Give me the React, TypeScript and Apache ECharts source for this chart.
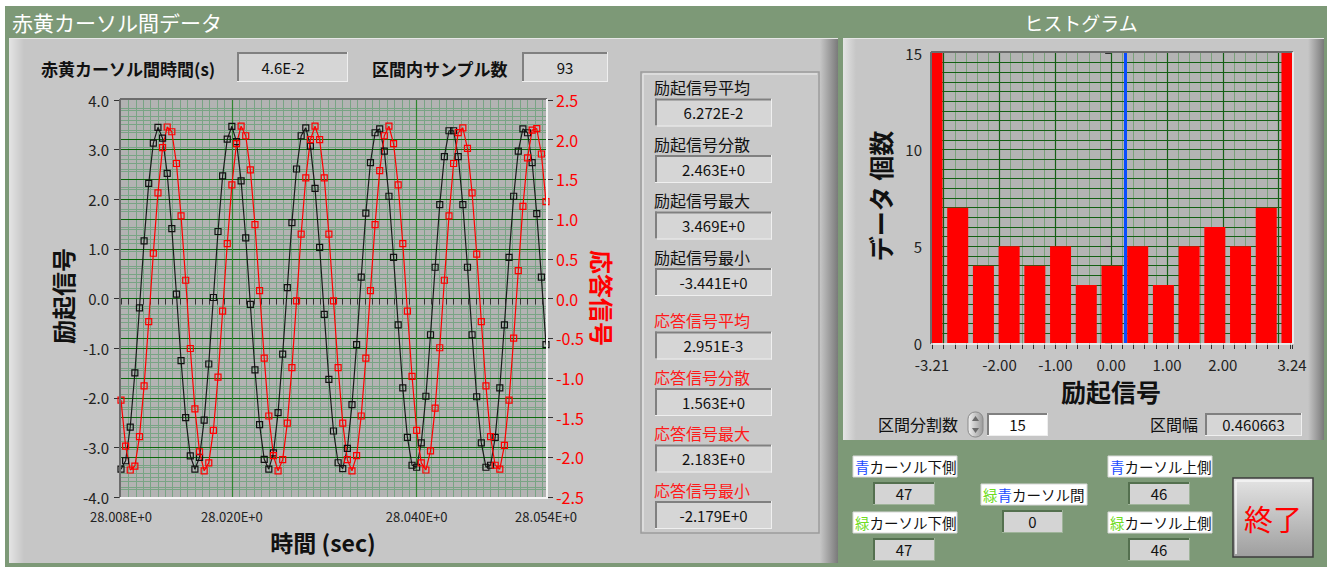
import React, { useEffect, useRef } from 'react';
import * as echarts from 'echarts';

// ---------------- data ----------------
const T0 = 28.008; // first sample time (s)
const DT = 0.0005; // sampling interval (s)
const excitation = [
  -3.44, -3.27, -2.59, -1.5, -0.19, 1.16, 2.32, 3.13, 3.45, 3.23, 2.52, 1.41, 0.09, -1.25, -2.4, -3.17,
  -3.44, -3.2, -2.45, -1.32, 0.02, 1.35, 2.47, 3.21, 3.47, 3.16, 2.37, 1.22, -0.12, -1.44, -2.54, -3.24,
  -3.44, -3.11, -2.3, -1.12, 0.22, 1.53, 2.61, 3.28, 3.44, 3.07, 2.22, 1.03, -0.32, -1.63, -2.67, -3.31,
  -3.43, -3.02, -2.14, -0.93, 0.43, 1.72, 2.74, 3.34, 3.42, 2.97, 2.06, 0.83, -0.53, -1.8, -2.8, -3.36,
  -3.4, -2.91, -1.97, -0.73, 0.63, 1.89, 2.86, 3.38, 3.38, 2.86, 1.89, 0.63, -0.73, -1.98, -2.91, -3.4,
  -3.36, -2.8, -1.8, -0.53, 0.83, 2.06, 2.97, 3.42, 3.34, 2.74, 1.71, 0.43, -0.93,
];
const response = [
  -1.28, -1.86, -2.16, -2.11, -1.74, -1.1, -0.29, 0.57, 1.33, 1.9, 2.16, 2.1, 1.7, 1.04, 0.23, -0.63,
  -1.39, -1.93, -2.17, -2.07, -1.66, -0.99, -0.16, 0.69, 1.43, 1.95, 2.17, 2.05, 1.62, 0.93, 0.1, -0.75,
  -1.48, -1.98, -2.17, -2.03, -1.57, -0.87, -0.03, 0.81, 1.52, 2.0, 2.17, 2.0, 1.52, 0.81, -0.03, -0.87,
  -1.57, -2.03, -2.17, -1.98, -1.48, -0.75, 0.1, 0.93, 1.61, 2.05, 2.17, 1.95, 1.43, 0.69, -0.16, -0.98,
  -1.66, -2.07, -2.16, -1.92, -1.38, -0.62, 0.23, 1.04, 1.7, 2.09, 2.15, 1.89, 1.33, 0.56, -0.29, -1.1,
  -1.74, -2.1, -2.15, -1.85, -1.28, -0.5, 0.35, 1.16, 1.77, 2.12, 2.14, 1.82, 1.22,
];
const timeLabels = [28.008, 28.02, 28.04, 28.054];
const timeMajor = [28.02, 28.04];

const HIST_MIN = -3.21;
const HIST_MAX = 3.24;
const BIN_WIDTH = 0.460663;
const histCounts = [15, 7, 4, 5, 4, 5, 3, 4, 5, 3, 5, 6, 5, 7, 15];
const histLabels = [-3.21, -2, -1, 0, 1, 2, 3.24];
const histMajor = [-3, -2, -1, 0, 1, 2, 3];
const blueCursor = 0.25;

const excStatLabels = ['励起信号平均', '励起信号分散', '励起信号最大', '励起信号最小'];
const excStatValues = ['6.272E-2', '2.463E+0', '3.469E+0', '-3.441E+0'];
const resStatLabels = ['応答信号平均', '応答信号分散', '応答信号最大', '応答信号最小'];
const resStatValues = ['2.951E-3', '1.563E+0', '2.183E+0', '-2.179E+0'];

// ---------------- style ----------------
const FONT = '"Noto Sans CJK JP", "Noto Sans", sans-serif';
const GREEN = '#7d9977';
const PANEL = '#c6c6c6';
const PLOT_BG = '#b3b3b3';
const MINOR = '#79a485';
const MAJOR = '#0b680b';
const VMAJOR = '#2f872f';
const H_MINOR_V = '#7aa27a';
const H_LINE = '#145f14';
const BAR_PX = 21;

const lg = (x: number, y: number, x2: number, y2: number, a: string, b: string) =>
  new echarts.graphic.LinearGradient(x, y, x2, y2, [
    { offset: 0, color: a },
    { offset: 1, color: b },
  ]);

const R = (x: number, y: number, w: number, h: number, fill: any, z: number, extra: any = {}) => ({
  type: 'rect',
  shape: { x, y, width: w, height: h, r: extra.r || 0 },
  style: { fill, stroke: extra.stroke || null, lineWidth: extra.lineWidth || 0 },
  z,
  silent: true,
});
const L = (x1: number, y1: number, x2: number, y2: number, stroke: string, w: number, z: number) => ({
  type: 'line',
  shape: { x1, y1, x2, y2 },
  style: { stroke, lineWidth: w },
  z,
  silent: true,
});
const T = (x: number, y: number, text: string, o: any = {}) => ({
  type: 'text',
  x,
  y,
  rotation: o.rotation || 0,
  z: o.z || 30,
  silent: true,
  style: {
    text,
    fill: o.color || '#111',
    fontSize: o.size || 15,
    fontFamily: FONT,
    fontWeight: o.weight || 'normal',
    align: o.align || 'left',
    textAlign: o.align || 'left',
    verticalAlign: 'middle',
    textVerticalAlign: 'middle',
    rich: o.rich,
  },
});
const sunken = (x: number, y: number, w: number, h: number, fill: string, dark = '#808080', light = '#efefef') => [
  R(x, y, w, h, fill, -5),
  L(x, y + 1, x + w, y + 1, dark, 2, -4),
  L(x + 1, y, x + 1, y + h, dark, 2, -4),
  L(x, y + h - 0.5, x + w, y + h - 0.5, light, 1, -4),
  L(x + w - 0.5, y, x + w - 0.5, y + h, light, 1, -4),
];

function buildOption() {
  const timeData = excitation.map((v, i) => [T0 + DT * i, v]);
  const respData = response.map((v, i) => [T0 + DT * i, v]);

  const timeTicks: number[] = [];
  for (let k = 0; k <= 57; k++) timeTicks.push(Math.round((28.008 + 0.0008 * k) * 1e5) / 1e5);
  timeTicks.push(28.054);
  const timeMinor = timeTicks.filter(
    (v) => v > 28.0081 && v < 28.0539 && timeMajor.every((m) => Math.abs(v - m) > 1e-6),
  );

  const histTicks: number[] = [HIST_MIN];
  for (let k = 0; k <= 32; k++) histTicks.push(Math.round((-3.2 + 0.2 * k) * 100) / 100);
  histTicks.push(HIST_MAX);
  const histMinor = histTicks.filter(
    (v) => v > HIST_MIN && v < HIST_MAX && Math.abs(v - Math.round(v)) > 1e-6,
  );
  const histData = histCounts.map((c, k) => [HIST_MIN + BIN_WIDTH * k, c]);

  const vLines = (vals: number[], color: string, width: number, z: number) => ({
    silent: true,
    symbol: 'none',
    z,
    precision: 6,
    animation: false,
    label: { show: false },
    emphasis: { disabled: true },
    lineStyle: { type: 'solid', color, width },
    data: vals.map((v) => ({ xAxis: v })),
  });

  // ---------- graphic (panels, labels) ----------
  const g: any[] = [];
  g.push(R(0, 0, 1333, 572, '#ffffff', -40));
  g.push(R(5, 6, 1322, 561, GREEN, -39));
  // left panel
  g.push(R(9, 38, 829, 525, PANEL, -30));
  g.push(R(9, 38, 15, 525, lg(0, 0, 1, 0, '#e4e4e4', PANEL), -29));
  g.push(R(820, 38, 18, 525, lg(0, 0, 1, 0, PANEL, '#7a7a7a'), -29));
  g.push(L(9, 38.5, 838, 38.5, '#e6e6e6', 1, -28));
  // histogram panel
  g.push(R(843, 38, 481, 402, PANEL, -30));
  g.push(R(843, 38, 13, 402, lg(0, 0, 1, 0, '#e4e4e4', PANEL), -29));
  g.push(R(1308, 38, 16, 402, lg(0, 0, 1, 0, PANEL, '#7a7a7a'), -29));
  g.push(L(843, 38.5, 1324, 38.5, '#e6e6e6', 1, -28));
  // stats panel
  g.push(R(641, 72, 178, 461, '#c9c9c9', -25, { stroke: '#9c9c9c', lineWidth: 1.5 }));
  g.push(L(643, 74, 817, 74, '#e2e2e2', 1.5, -24));
  g.push(L(643, 74, 643, 531, '#e2e2e2', 1.5, -24));

  // titles
  g.push(T(12, 22, '赤黄カーソル間データ', { size: 21, color: '#ffffff' }));
  g.push(T(1081, 22, 'ヒストグラム', { size: 19, color: '#ffffff', align: 'center' }));

  // top row
  g.push(T(41, 68, '赤黄カーソル間時間(s)', { size: 17, weight: 'bold' }));
  g.push(...sunken(237, 52, 111, 30, '#d6d6d6'));
  g.push(T(283, 67, '4.6E-2', { size: 15, align: 'center' }));
  g.push(T(372, 68, '区間内サンプル数', { size: 17, weight: 'bold' }));
  g.push(...sunken(522, 52, 86, 30, '#d6d6d6'));
  g.push(T(565, 67, '93', { size: 15, align: 'center' }));

  // stats
  const excY = [87, 143.5, 200, 256.5];
  const resY = [320, 376.5, 433, 489.5];
  excStatLabels.forEach((lab, i) => {
    g.push(T(654, excY[i], lab, { size: 16 }));
    g.push(...sunken(655, excY[i] + 11.5, 117, 28, '#d6d6d6'));
    g.push(T(713.5, excY[i] + 25.5, excStatValues[i], { size: 15, align: 'center' }));
  });
  resStatLabels.forEach((lab, i) => {
    g.push(T(654, resY[i], lab, { size: 16, color: '#ff1a1a' }));
    g.push(...sunken(655, resY[i] + 11.5, 117, 28, '#d6d6d6'));
    g.push(T(713.5, resY[i] + 25.5, resStatValues[i], { size: 15, align: 'center' }));
  });

  // plot backgrounds + frames
  g.push(R(121, 100, 425, 397, PLOT_BG, -10));
  g.push(L(120, 99, 547, 99, '#6c6c6c', 2, 10));
  g.push(L(120, 99, 120, 498, '#6c6c6c', 2, 10));
  g.push(L(120, 498, 548, 498, '#f4f4f4', 2, 10));
  g.push(L(547, 99, 547, 498, '#f4f4f4', 2, 10));
  g.push(R(932, 53, 360, 290, '#b4b4b4', -10));
  g.push(L(931, 52, 1293, 52, '#6c6c6c', 2, 10));
  g.push(L(931, 52, 931, 344, '#6c6c6c', 2, 10));
  g.push(L(931, 344, 1293, 344, '#f4f4f4', 1.5, 10));
  g.push(L(1293, 52, 1293, 344, '#f4f4f4', 1.5, 10));

  // axis titles
  g.push(T(62, 296, '励起信号', { size: 24, weight: 'bold', align: 'center', rotation: Math.PI / 2 }));
  g.push(T(602, 298, '応答信号', { size: 24, weight: 'bold', align: 'center', color: '#ff0000', rotation: -Math.PI / 2 }));
  g.push(T(323, 542, '時間 (sec)', { size: 23, weight: 'bold', align: 'center' }));
  g.push(T(880, 196, 'データ 個数', { size: 25, weight: 'bold', align: 'center', rotation: Math.PI / 2 }));
  g.push(T(1111, 391, '励起信号', { size: 25, weight: 'bold', align: 'center' }));

  // histogram controls
  g.push(T(878, 424, '区間分割数', { size: 16 }));
  g.push(R(968, 412, 15, 25, lg(0, 0, 1, 0, '#f0f0f0', '#9a9a9a'), -5, { r: 7, stroke: '#8a8a8a', lineWidth: 1 }));
  g.push({ type: 'polygon', shape: { points: [[972, 421], [979, 421], [975.5, 416]] }, style: { fill: '#6a6a6a' }, z: -4, silent: true });
  g.push({ type: 'polygon', shape: { points: [[972, 428], [979, 428], [975.5, 433]] }, style: { fill: '#6a6a6a' }, z: -4, silent: true });
  g.push(...sunken(987, 413, 61, 23, '#ffffff'));
  g.push(T(1017.5, 424.5, '15', { size: 15, align: 'center' }));
  g.push(T(1150, 424, '区間幅', { size: 16 }));
  g.push(...sunken(1205, 413, 97, 23, '#d6d6d6'));
  g.push(T(1253.5, 424.5, '0.460663', { size: 15, align: 'center' }));

  // cursor info (bottom green area)
  const rich = {
    b: { fill: '#1a4cff', fontSize: 14.5, fontFamily: FONT },
    g: { fill: '#6fdc22', fontSize: 14.5, fontFamily: FONT },
    k: { fill: '#111111', fontSize: 14.5, fontFamily: FONT },
  };
  const tag = (x: number, y: number, w: number, text: string) => {
    g.push(R(x, y, w, 21, '#ffffff', -5, { stroke: '#d8d8d8', lineWidth: 1 }));
    g.push(T(x + 2, y + 10.5, text, { size: 14.5, rich }));
  };
  const valBox = (x: number, y: number, w: number, text: string) => {
    g.push(...sunken(x, y, w, 23, '#d4d4d4', '#54704f', '#9fb49a'));
    g.push(T(x + w / 2, y + 11.5, text, { size: 15, align: 'center' }));
  };
  tag(853, 456, 104, '{b|青}{k|カーソル下側}');
  valBox(873, 482, 62, '47');
  tag(853, 512, 104, '{g|緑}{k|カーソル下側}');
  valBox(873, 538, 62, '47');
  tag(981, 484, 106, '{g|緑}{b|青}{k|カーソル間}');
  valBox(1002, 510, 61, '0');
  tag(1108, 456, 104, '{b|青}{k|カーソル上側}');
  valBox(1128, 482, 62, '46');
  tag(1108, 512, 104, '{g|緑}{k|カーソル上側}');
  valBox(1128, 538, 62, '46');
  // stop button
  g.push(R(1233, 478, 80, 79, lg(0, 0, 0, 1, '#e4e4e4', '#9e9e9e'), -5, { stroke: '#3c3c3c', lineWidth: 1.5 }));
  g.push(L(1236, 481, 1310, 481, '#f6f6f6', 1.5, -4));
  g.push(L(1236, 481, 1236, 554, '#f6f6f6', 1.5, -4));
  g.push(T(1273, 518, '終了', { size: 29, color: '#ff0000', align: 'center' }));

  const axisText = { fontFamily: FONT, color: '#222' };

  return {
    animation: false,
    graphic: { elements: g },
    grid: [
      { left: 121, top: 100, width: 425, height: 397, show: false },
      { left: 932, top: 53, width: 360, height: 290, show: false },
    ],
    xAxis: [
      {
        gridIndex: 0,
        type: 'value',
        min: 28.008,
        max: 28.054,
        axisLine: { show: false },
        axisTick: { show: true, length: 6, customValues: timeTicks, lineStyle: { color: '#333' } },
        axisLabel: {
          ...axisText,
          customValues: timeLabels,
          fontSize: 13,
          margin: 13,
          formatter: (v: number) => v.toFixed(3) + 'E+0',
        },
        splitLine: { show: false },
      },
      {
        gridIndex: 1,
        type: 'value',
        min: HIST_MIN,
        max: HIST_MAX,
        axisLine: { show: false },
        axisTick: { show: true, length: 6, customValues: histTicks, lineStyle: { color: '#333' } },
        axisLabel: {
          ...axisText,
          customValues: histLabels,
          fontSize: 15,
          margin: 14,
          formatter: (v: number) => v.toFixed(2),
        },
        splitLine: { show: false },
      },
    ],
    yAxis: [
      {
        gridIndex: 0,
        type: 'value',
        position: 'left',
        min: -4,
        max: 4,
        interval: 1,
        axisLine: { show: false },
        axisTick: { show: true, length: 7, lineStyle: { color: '#333' } },
        axisLabel: { ...axisText, fontSize: 15, margin: 12, formatter: (v: number) => v.toFixed(1) },
        splitLine: { show: true, showMinLine: false, showMaxLine: false, lineStyle: { color: MAJOR, width: 1 } },
        minorTick: { show: false, splitNumber: 5 },
        minorSplitLine: { show: true, lineStyle: { color: MINOR, width: 1 } },
      },
      {
        gridIndex: 0,
        type: 'value',
        position: 'right',
        min: -2.5,
        max: 2.5,
        interval: 0.5,
        axisLine: { show: false },
        axisTick: { show: true, length: 7, lineStyle: { color: '#333' } },
        axisLabel: { fontFamily: FONT, color: '#ff0000', fontSize: 16, margin: 10, formatter: (v: number) => v.toFixed(1) },
        splitLine: { show: true, showMinLine: false, showMaxLine: false, lineStyle: { color: MAJOR, width: 1 } },
        minorTick: { show: false, splitNumber: 5 },
        minorSplitLine: { show: true, lineStyle: { color: MINOR, width: 1 } },
      },
      {
        gridIndex: 1,
        type: 'value',
        min: 0,
        max: 15,
        interval: 5,
        axisLine: { show: false },
        axisTick: { show: true, length: 6, lineStyle: { color: '#333' } },
        axisLabel: { ...axisText, fontSize: 15, margin: 10 },
        splitLine: { show: true, showMinLine: false, showMaxLine: false, lineStyle: { color: H_LINE, width: 1 } },
        minorTick: { show: false, splitNumber: 10 },
        minorSplitLine: { show: true, lineStyle: { color: H_LINE, width: 1 } },
      },
    ],
    series: [
      {
        type: 'line',
        xAxisIndex: 0,
        yAxisIndex: 0,
        data: [],
        silent: true,
        markLine: vLines(timeMinor, MINOR, 1, -1),
      },
      {
        type: 'line',
        xAxisIndex: 0,
        yAxisIndex: 0,
        data: [],
        silent: true,
        markLine: vLines(timeMajor, VMAJOR, 1.2, 1),
      },
      {
        name: '励起信号',
        type: 'line',
        xAxisIndex: 0,
        yAxisIndex: 0,
        data: timeData,
        z: 3,
        showAllSymbol: true,
        symbol: 'rect',
        symbolSize: 6,
        lineStyle: { color: '#1a1a1a', width: 1.2 },
        itemStyle: { color: 'rgba(0,0,0,0)', borderColor: '#111', borderWidth: 1.2 },
        silent: true,
      },
      {
        name: '応答信号',
        type: 'line',
        xAxisIndex: 0,
        yAxisIndex: 1,
        data: respData,
        z: 3,
        showAllSymbol: true,
        symbol: 'rect',
        symbolSize: 6,
        lineStyle: { color: '#ff0000', width: 1.2 },
        itemStyle: { color: 'rgba(0,0,0,0)', borderColor: '#ff0000', borderWidth: 1.2 },
        silent: true,
      },
      {
        type: 'line',
        xAxisIndex: 1,
        yAxisIndex: 2,
        data: [],
        silent: true,
        markLine: vLines(histMinor, H_MINOR_V, 1, -1),
      },
      {
        type: 'line',
        xAxisIndex: 1,
        yAxisIndex: 2,
        data: [],
        silent: true,
        markLine: vLines(histMajor, H_LINE, 1.2, 1),
      },
      {
        name: 'ヒストグラム',
        type: 'custom',
        xAxisIndex: 1,
        yAxisIndex: 2,
        data: histData,
        z: 3,
        silent: true,
        encode: { x: 0, y: 1 },
        renderItem: (params: any, api: any) => {
          const xv = api.value(0);
          const cv = api.value(1);
          const p0 = api.coord([xv, 0]);
          const p1 = api.coord([xv, cv]);
          const cs = params.coordSys;
          const shape = echarts.graphic.clipRectByRect(
            { x: p0[0] - BAR_PX / 2, y: p1[1], width: BAR_PX, height: p0[1] - p1[1] },
            { x: cs.x, y: cs.y, width: cs.width, height: cs.height },
          );
          if (!shape) return null;
          return { type: 'rect', shape, style: { fill: '#ff0000' } };
        },
        markLine: vLines([blueCursor], '#0a4cff', 3, 4),
      },
    ],
  };
}

export default function App() {
  const ref = useRef<HTMLDivElement>(null);
  useEffect(() => {
    if (!ref.current) return;
    const chart = echarts.init(ref.current, null, { renderer: 'svg' });
    chart.setOption(buildOption() as any);
    return () => chart.dispose();
  }, []);
  return (
    <div
      ref={ref}
      style={{ position: 'absolute', left: 0, top: 0, width: 1333, height: 572 }}
    />
  );
}
